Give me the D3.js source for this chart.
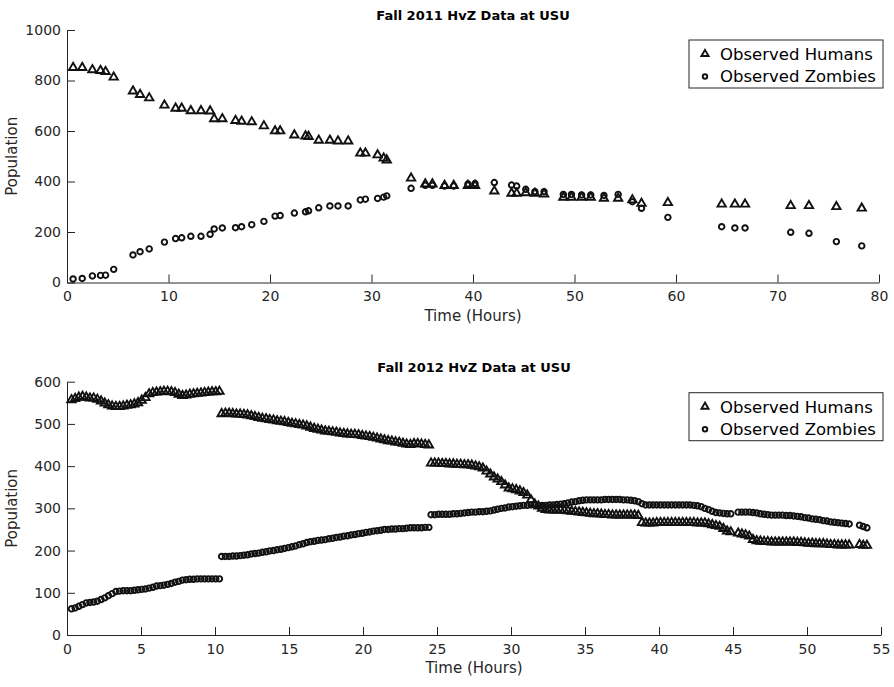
<html>
<head>
<style>
  body { margin: 0; background: #fff; }
  text { font-family: "DejaVu Sans", Verdana, sans-serif; fill: #262626; }
  .domain, .tick line { stroke: #262626; }
  .mark { fill: none; stroke: #111; stroke-width: 1.9; }
</style>
</head>
<body>
<svg id="chart" width="894" height="687"></svg>
<script src="https://cdn.jsdelivr.net/npm/d3@7"></script>
<script>
// ---- Fall 2011 ----
const hours2011 = [0.6,1.5,2.5,3.3,3.8,4.6,6.5,7.2,8.1,9.6,10.7,11.3,12.2,13.2,14.1,14.5,15.3,16.6,17.2,18.2,
  19.4,20.5,21.0,22.4,23.5,23.8,24.8,25.9,26.7,27.7,28.9,29.4,30.6,31.2,31.5,33.9,35.3,36.0,37.2,38.1,
  39.5,40.2,42.1,43.8,44.3,45.2,46.1,47.0,48.9,49.7,50.7,51.6,52.9,54.3,55.7,56.6,59.2,64.5,65.8,66.8,
  71.3,73.1,75.8,78.3]
const humans2011 = [851,851,842,839,835,813,758,744,731,702,690,690,680,680,679,648,648,641,638,636,
  620,600,600,584,580,578,563,563,560,560,512,512,505,492,485,413,390,390,384,384,
  384,384,362,353,353,355,353,350,337,337,337,337,333,333,327,313,316,310,310,310,
  304,304,300,294]
const zombies2011 = [14,16,26,28,29,52,109,122,133,160,174,177,183,183,191,212,216,217,221,229,
  242,263,265,275,280,284,296,303,303,303,327,330,333,338,343,373,385,385,382,382,
  390,392,396,386,382,369,360,360,349,349,347,347,345,349,320,294,258,221,216,216,
  199,195,162,145]
const xTicks2011 = [0,10,20,30,40,50,60,70,80]
const yTicks2011 = [0,200,400,600,800,1000]

// ---- Fall 2012 ----
const hours2012 = [
  0.30,0.55,0.80,1.05,1.30,1.55,1.80,2.05,2.30,2.55,2.80,3.05,3.30,3.55,3.80,4.05,4.30,4.55,4.80,5.05,
  5.30,5.55,5.80,6.05,6.30,6.55,6.80,7.05,7.30,7.55,7.80,8.05,8.30,8.55,8.80,9.05,9.30,9.55,9.80,10.05,10.30,
  10.45,10.70,10.95,11.20,11.45,11.70,11.95,12.20,12.45,12.70,12.95,13.20,13.45,13.70,13.95,14.20,14.45,14.70,14.95,
  15.20,15.45,15.70,15.95,16.20,16.45,16.70,16.95,17.20,17.45,17.70,17.95,18.20,18.45,18.70,18.95,19.20,19.45,19.70,
  19.95,20.20,20.45,20.70,20.95,21.20,21.45,21.70,21.95,22.20,22.45,22.70,22.95,23.20,23.45,23.70,23.95,24.20,24.45,
  24.60,24.85,25.10,25.35,25.60,25.85,26.10,26.35,26.60,26.85,27.10,27.35,27.60,27.85,28.10,28.35,28.60,28.85,29.10,29.35,
  29.60,29.85,30.10,30.35,30.60,30.85,31.10,31.35,31.60,31.85,32.10,32.35,32.60,32.85,33.10,33.35,33.60,33.85,34.10,34.35,
  34.60,34.85,35.10,35.35,35.60,35.85,36.10,36.35,36.60,36.85,37.10,37.35,37.60,37.85,38.10,38.35,38.60,38.85,39.10,39.35,
  39.60,39.85,40.10,40.35,40.60,40.85,41.10,41.35,41.60,41.85,42.10,42.35,42.60,42.85,43.10,43.35,43.60,43.85,44.10,44.35,
  44.60,44.85,
  45.35,45.60,45.85,46.10,46.35,46.60,46.85,47.10,47.35,47.60,47.85,48.10,48.35,48.60,48.85,49.10,49.35,49.60,49.85,50.10,
  50.35,50.60,50.85,51.10,51.35,51.60,51.85,52.10,52.35,52.60,52.85,
  53.55,53.80,54.05]
const humans2012 = [
  557,560,563,565,563,561,561,558,554,549,545,542,541,541,542,544,545,547,550,556,
  562,571,574,575,576,577,577,576,574,570,567,568,570,571,572,573,574,575,576,576,577,
  524,525,525,524,523,523,522,521,519,517,515,513,512,510,509,507,506,505,503,
  501,500,498,497,495,492,489,487,485,483,482,481,480,478,477,476,475,475,474,
  472,471,470,468,466,464,462,460,459,457,456,454,452,451,453,453,452,451,450,
  407,407,407,406,406,405,405,404,404,403,403,402,400,398,395,388,381,374,369,363,
  355,348,346,344,341,337,331,320,310,305,300,297,296,296,296,296,295,294,293,292,
  291,290,289,288,287,287,286,285,285,284,284,284,284,284,284,284,283,266,265,265,
  265,266,266,266,266,266,266,266,266,266,266,266,265,265,265,263,261,259,257,252,
  246,244,
  241,239,237,234,226,223,222,221,221,220,220,220,220,220,220,220,219,219,218,217,
  217,216,216,216,215,214,214,213,213,213,213,
  214,212,212]
const zombies2012 = [
  62,64,68,72,76,77,78,80,84,88,93,98,103,104,105,105,105,106,107,108,
  109,111,113,116,117,118,120,122,125,127,130,131,132,132,133,133,133,133,133,133,133,
  186,186,186,187,187,188,189,190,192,193,194,196,197,199,200,202,203,205,207,
  209,211,214,216,219,221,222,224,225,226,228,229,231,232,234,235,237,238,240,
  241,243,244,246,247,248,250,250,251,251,252,252,253,254,254,254,254,255,255,
  285,285,286,286,286,286,287,287,288,289,290,291,291,292,292,293,294,296,298,300,
  301,303,304,305,306,307,307,308,308,307,307,307,308,308,309,310,311,313,315,316,
  318,319,320,320,320,320,320,321,321,321,321,321,320,320,319,318,316,311,308,308,
  308,308,308,308,308,308,308,308,308,308,308,307,306,304,300,297,293,290,289,288,
  287,287,
  291,291,291,291,290,289,287,286,285,284,284,284,284,283,283,282,281,280,278,277,
  275,274,273,271,270,268,267,266,265,264,263,
  260,257,254]
const xTicks2012 = [0,5,10,15,20,25,30,35,40,45,50,55]
const yTicks2012 = [0,100,200,300,400,500,600]

const seriesNames = ["Observed Humans", "Observed Zombies"]

const svg = d3.select("#chart")
const tri = d3.symbol().type(d3.symbolTriangle).size(30)
const circ = d3.symbol().type(d3.symbolCircle).size(24)

function drawPanel(p) {
  let x = d3.scaleLinear().domain(p.xDomain).range([p.left, p.right])
  let y = d3.scaleLinear().domain(p.yDomain).range([p.bottom, p.top])

  let gx = svg.append("g")
    .attr("transform", `translate(0,${p.bottom})`)
    .call(d3.axisBottom(x).tickValues(p.xTicks).tickFormat(d3.format("d"))
      .tickSize(-8).tickSizeOuter(0).tickPadding(9))
  let gy = svg.append("g")
    .attr("transform", `translate(${p.left},0)`)
    .call(d3.axisLeft(y).tickValues(p.yTicks).tickFormat(d3.format("d"))
      .tickSize(-8).tickSizeOuter(0).tickPadding(6))
  gx.selectAll("text").style("font-size", "14px")
  gy.selectAll("text").style("font-size", "14px")

  let hum = p.hours.map((h, i) => ({ h: h, v: p.humans[i] }))
  let zom = p.hours.map((h, i) => ({ h: h, v: p.zombies[i] }))

  svg.append("g").selectAll("path")
    .data(hum).enter().append("path")
    .attr("class", "mark")
    .attr("d", tri)
    .attr("transform", d => `translate(${x(d.h)},${y(d.v)})`)
  svg.append("g").selectAll("path")
    .data(zom).enter().append("path")
    .attr("class", "mark")
    .attr("d", circ)
    .attr("transform", d => `translate(${x(d.h)},${y(d.v)})`)

  let cx = (p.left + p.right) / 2
  svg.append("text")
    .attr("x", cx).attr("y", p.top - 10)
    .attr("text-anchor", "middle")
    .style("font-size", "13px").style("font-weight", "bold")
    .style("fill", "#000")
    .text(p.title)
  svg.append("text")
    .attr("x", cx).attr("y", p.bottom + 38)
    .attr("text-anchor", "middle")
    .style("font-size", "15px")
    .text("Time (Hours)")
  svg.append("text")
    .attr("transform", `translate(17,${(p.top + p.bottom) / 2}) rotate(-90)`)
    .attr("text-anchor", "middle")
    .style("font-size", "15px")
    .text("Population")

  // legend
  let lg = svg.append("g").attr("transform", `translate(689,${p.legendTop})`)
  lg.append("rect")
    .attr("width", 194).attr("height", 48)
    .attr("fill", "#fff").attr("stroke", "#262626").attr("stroke-width", 1)
  seriesNames.forEach((name, i) => {
    let yy = 14 + i * 22.5
    lg.append("path").attr("class", "mark")
      .attr("d", i === 0 ? d3.symbol().type(d3.symbolTriangle).size(22) : d3.symbol().type(d3.symbolCircle).size(16))
      .attr("transform", `translate(16,${yy})`)
    lg.append("text")
      .attr("x", 31).attr("y", yy).attr("dy", "0.36em")
      .style("font-size", "16.5px").style("fill", "#000")
      .text(name)
  })
}

drawPanel({
  title: "Fall 2011 HvZ Data at USU",
  left: 67, right: 879, top: 30, bottom: 282.5,
  xDomain: [0, 80], yDomain: [0, 1000],
  xTicks: xTicks2011, yTicks: yTicks2011,
  hours: hours2011, humans: humans2011, zombies: zombies2011,
  legendTop: 40
})
drawPanel({
  title: "Fall 2012 HvZ Data at USU",
  left: 67, right: 881, top: 381.7, bottom: 635,
  xDomain: [0, 55], yDomain: [0, 600],
  xTicks: xTicks2012, yTicks: yTicks2012,
  hours: hours2012, humans: humans2012, zombies: zombies2012,
  legendTop: 392.7
})
</script>
</body>
</html>
